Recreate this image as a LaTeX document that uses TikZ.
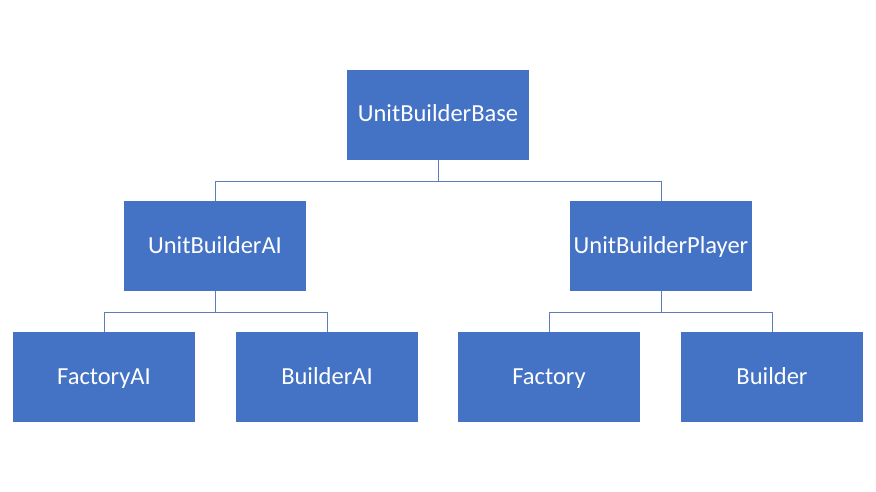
\documentclass[tikz,border=0pt]{standalone}
\usepackage{fontspec}
\setmainfont{Carlito}
\definecolor{boxblue}{HTML}{4472C4}
\definecolor{linkblue}{HTML}{5B7DB8}
\begin{document}
\begin{tikzpicture}[x=1pt,y=-1pt,
  box/.style={fill=boxblue,draw=none,minimum width=182pt,minimum height=90pt,inner sep=0pt,
    text height=16pt,text depth=2pt,
    text=white,font=\fontsize{24.5}{28}\selectfont},
  link/.style={draw=linkblue,line width=0.9pt}]
\useasboundingbox (0,0) rectangle (876,492);
\node[box] (base) at (438,115) {UnitBuilderBase};
\node[box] (ai) at (215,246) {UnitBuilderAI};
\node[box] (pl) at (661,246) {UnitBuilderPlayer};
\node[box] (fai) at (104,377) {FactoryAI};
\node[box] (bai) at (327,377) {BuilderAI};
\node[box] (fa) at (549,377) {Factory};
\node[box] (bu) at (772,377) {Builder};
\draw[link] (base.south) |- (215,181) -| (ai.north);
\draw[link] (base.south) |- (661,181) -| (pl.north);
\draw[link] (ai.south) |- (104,312) -| (fai.north);
\draw[link] (ai.south) |- (327,312) -| (bai.north);
\draw[link] (pl.south) |- (549,312) -| (fa.north);
\draw[link] (pl.south) |- (772,312) -| (bu.north);
\end{tikzpicture}
\end{document}
